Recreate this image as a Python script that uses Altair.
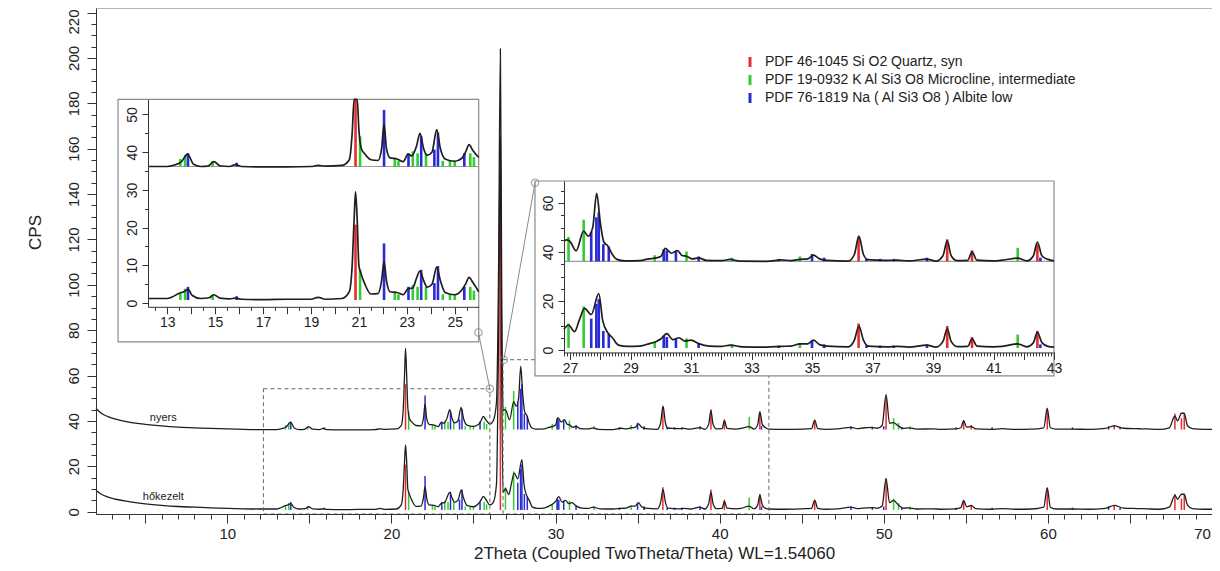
import altair as alt
import pandas as pd

# ---------------- data ----------------
# measured pattern, raw sample (shifted up in the display), (2theta, CPS)
NYERS = [
    (2.0, 45.5), (2.3, 43.5), (2.7, 42.0), (3.2, 40.8), (4.0, 39.5), (5.0, 38.5), (6.0, 37.8),
    (7.0, 37.3), (8.0, 37.0), (9.0, 36.7), (10.0, 36.5), (11.0, 36.3), (12.0, 36.2), (12.2, 36.2),
    (12.6, 36.2), (13.0, 36.2), (13.3, 36.6), (13.6, 37.5), (13.85, 39.5), (14.1, 36.8), (14.4, 36.2),
    (14.7, 36.3), (14.95, 37.5), (15.2, 36.4), (15.6, 36.2), (15.85, 36.7), (16.1, 36.2),
    (17.0, 36.1), (18.0, 36.1), (19.0, 36.2), (19.3, 36.5), (19.6, 36.3), (20.3, 36.5), (20.6, 38.0),
    (20.72, 45.0), (20.8, 60.0), (20.86, 72.0), (20.93, 60.0), (21.0, 46.0), (21.1, 41.0),
    (21.25, 39.5), (21.5, 38.0), (21.8, 37.8), (21.95, 41.0), (22.05, 47.5), (22.15, 41.0),
    (22.3, 38.5), (22.6, 38.2), (22.85, 37.5), (23.05, 39.5), (23.2, 39.0), (23.4, 41.5),
    (23.55, 45.0), (23.7, 41.0), (23.85, 39.2), (24.05, 40.0), (24.25, 46.0), (24.4, 41.0),
    (24.6, 38.2), (25.0, 37.6), (25.3, 38.4), (25.45, 40.0), (25.6, 42.0), (25.75, 40.5),
    (26.0, 38.6), (26.2, 40.0), (26.4, 48.0), (26.52, 100.0), (26.64, 204.0), (26.72, 100.0),
    (26.8, 44.5), (26.9, 45.0), (27.0, 44.3), (27.2, 40.5), (27.45, 48.5), (27.6, 46.5),
    (27.75, 50.0), (27.88, 64.0), (28.0, 52.0), (28.12, 44.0), (28.25, 42.5), (28.4, 39.0),
    (28.55, 37.0), (28.8, 36.4), (29.3, 36.5), (29.6, 37.2), (29.85, 37.6), (30.0, 38.2),
    (30.15, 41.5), (30.35, 39.5), (30.55, 40.6), (30.7, 38.6), (30.85, 38.3), (31.05, 37.2),
    (31.25, 37.6), (31.5, 36.6), (32.0, 36.5), (32.3, 37.0), (32.6, 36.3), (33.5, 36.2),
    (34.0, 36.8), (34.3, 36.5), (34.6, 37.0), (34.85, 37.2), (35.05, 38.7), (35.25, 37.2),
    (35.5, 36.6), (36.2, 36.3), (36.4, 39.0), (36.55, 46.5), (36.7, 39.0), (36.85, 36.9),
    (37.2, 36.7), (37.5, 36.6), (37.8, 36.7), (38.2, 36.4), (38.8, 37.1), (39.1, 36.3),
    (39.33, 38.5), (39.47, 44.6), (39.6, 38.5), (39.8, 36.5), (40.15, 36.6), (40.29, 40.1),
    (40.45, 36.7), (41.0, 36.4), (41.3, 36.7), (41.8, 37.5), (42.1, 36.4), (42.32, 38.5),
    (42.45, 44.1), (42.6, 38.5), (42.8, 37.0), (43.0, 36.4), (44.0, 36.3), (45.0, 36.4),
    (45.6, 36.6), (45.79, 40.4), (45.98, 36.6), (46.5, 36.3), (47.2, 36.5), (48.0, 37.2),
    (48.4, 36.6), (48.7, 36.9), (49.3, 37.2), (49.6, 36.8), (49.9, 38.0), (50.14, 51.6),
    (50.35, 39.0), (50.6, 39.3), (50.85, 38.0), (51.2, 36.7), (51.5, 37.0), (52.0, 36.4),
    (53.0, 36.5), (53.5, 36.3), (54.4, 36.5), (54.7, 37.0), (54.87, 40.1), (55.05, 37.3),
    (55.33, 37.5), (55.6, 36.5), (56.5, 36.3), (57.24, 36.6), (58.0, 36.3), (59.0, 36.4),
    (59.75, 37.0), (59.96, 45.6), (60.15, 37.0), (60.5, 36.4), (61.5, 36.4), (62.5, 36.3),
    (63.5, 36.7), (64.04, 37.8), (64.6, 36.8), (65.4, 36.6), (66.0, 36.5), (66.8, 36.3),
    (67.4, 37.0), (67.74, 42.2), (67.9, 40.0), (68.14, 43.4), (68.31, 43.4), (68.5, 38.0),
    (68.8, 36.6), (69.5, 36.3), (70.0, 36.3),
]
# measured pattern, heat-treated sample
HOKEZELT = [
    (2.0, 9.5), (2.3, 7.8), (2.7, 6.5), (3.2, 5.5), (4.0, 4.5), (5.0, 3.5), (6.0, 2.8),
    (7.0, 2.3), (8.0, 2.0), (9.0, 1.7), (10.0, 1.5), (11.0, 1.3), (12.0, 1.2), (12.2, 1.2),
    (12.6, 1.2), (13.0, 1.2), (13.2, 1.6), (13.5, 2.6), (13.7, 3.0), (13.87, 3.6), (14.05, 2.0),
    (14.4, 1.2), (14.75, 1.4), (14.95, 2.2), (15.2, 1.3), (15.6, 1.1), (15.85, 1.3), (16.1, 1.0),
    (17.0, 0.9), (18.0, 1.0), (19.0, 1.0), (19.3, 1.5), (19.6, 1.0), (20.3, 1.2), (20.6, 3.0),
    (20.72, 10.0), (20.8, 22.0), (20.86, 29.5), (20.93, 22.0), (21.0, 10.0), (21.08, 8.0),
    (21.25, 5.0), (21.5, 2.4), (21.8, 2.5), (21.95, 6.0), (22.05, 11.0), (22.15, 6.0),
    (22.3, 3.0), (22.6, 2.8), (22.85, 2.2), (23.05, 3.8), (23.25, 4.0), (23.4, 6.5),
    (23.55, 8.5), (23.7, 6.0), (23.85, 4.2), (24.05, 5.0), (24.25, 9.5), (24.4, 6.0),
    (24.6, 2.8), (25.0, 2.2), (25.3, 3.5), (25.45, 5.0), (25.6, 6.8), (25.75, 5.5),
    (26.0, 3.0), (26.2, 4.0), (26.4, 12.0), (26.52, 70.0), (26.64, 165.0), (26.72, 60.0),
    (26.8, 8.5), (26.95, 10.2), (27.15, 7.5), (27.3, 12.0), (27.48, 17.0), (27.7, 14.5),
    (27.95, 23.0), (28.08, 12.0), (28.25, 7.0), (28.4, 5.0), (28.6, 2.0), (28.9, 1.5),
    (29.3, 1.6), (29.6, 2.5), (29.85, 3.5), (30.0, 4.5), (30.2, 6.7), (30.4, 4.2), (30.6, 5.0),
    (30.8, 3.6), (31.0, 4.0), (31.25, 2.6), (31.6, 1.6), (32.0, 1.5), (32.3, 2.0), (32.7, 1.3),
    (33.5, 1.2), (34.0, 1.5), (34.3, 1.6), (34.6, 2.5), (34.85, 2.5), (35.05, 4.0), (35.25, 2.2),
    (35.5, 1.6), (36.2, 1.3), (36.4, 4.0), (36.55, 9.8), (36.7, 4.0), (36.85, 1.6), (37.5, 1.3),
    (37.8, 1.5), (38.2, 1.2), (38.8, 2.0), (39.1, 1.2), (39.33, 3.5), (39.47, 8.6), (39.6, 3.5),
    (39.8, 1.4), (40.15, 1.5), (40.29, 4.6), (40.45, 1.6), (41.0, 1.3), (41.3, 1.5), (41.8, 2.5),
    (42.1, 1.3), (42.32, 3.0), (42.45, 7.3), (42.6, 3.0), (42.8, 1.5), (43.0, 1.2), (44.0, 1.1),
    (45.0, 1.3), (45.6, 1.5), (45.79, 5.1), (45.98, 1.5), (46.5, 1.1), (47.2, 1.3), (48.0, 2.0),
    (48.4, 1.4), (48.7, 1.6), (49.3, 1.8), (49.6, 1.5), (49.9, 2.5), (50.14, 14.6), (50.35, 4.0),
    (50.6, 5.0), (50.85, 3.3), (51.2, 1.6), (51.5, 1.7), (52.0, 1.2), (53.0, 1.3), (53.5, 1.1),
    (54.4, 1.3), (54.7, 1.8), (54.87, 5.0), (55.05, 2.2), (55.33, 2.8), (55.6, 1.4), (56.5, 1.1),
    (57.24, 1.4), (58.0, 1.1), (59.0, 1.2), (59.75, 2.0), (59.96, 10.6), (60.15, 2.0),
    (60.5, 1.2), (61.5, 1.2), (62.5, 1.1), (63.5, 1.5), (64.04, 2.8), (64.6, 1.6), (65.4, 1.4),
    (66.0, 1.3), (66.8, 1.1), (67.4, 2.0), (67.74, 7.2), (67.9, 5.5), (68.14, 7.7), (68.31, 7.7),
    (68.5, 3.0), (68.8, 1.4), (69.5, 1.1), (70.0, 1.1),
]
# reference sticks (2theta, height above the pattern baseline in CPS)
QUARTZ = [(20.86, 20), (26.64, 114), (36.54, 10), (39.47, 9), (40.29, 4.5), (42.45, 7),
          (45.79, 4), (50.14, 14), (54.87, 4), (55.33, 2), (59.96, 9), (64.04, 2),
          (67.74, 7), (68.14, 5), (68.31, 7)]
MICROCLINE = [(13.55, 2), (13.75, 3), (14.9, 1.5), (21.05, 8), (22.5, 2), (22.65, 1.5),
              (23.25, 4), (23.45, 3.5), (23.8, 3.5), (24.5, 1.5), (24.8, 1.5), (25.0, 1.5),
              (25.65, 3.5), (25.8, 2.5), (26.95, 10), (27.45, 17), (29.8, 2.5), (30.1, 3),
              (30.85, 4), (32.35, 1.5), (34.6, 2), (35.4, 1), (41.8, 5.5), (50.6, 5),
              (50.9, 3), (51.6, 1.5)]
ALBITE = [(13.87, 3.5), (15.9, 1), (22.05, 15), (23.07, 3.5), (23.6, 8), (24.15, 4.5),
          (24.3, 9), (25.4, 3.5), (27.7, 12), (27.87, 18), (27.95, 20), (28.1, 7),
          (28.28, 6), (30.1, 5), (30.2, 4.5), (30.5, 4), (31.25, 2), (33.9, 1), (35.0, 3),
          (35.4, 1.5), (36.8, 1), (37.25, 1), (37.7, 1), (38.8, 1.5), (42.55, 1.5),
          (48.0, 1.5), (49.3, 1), (50.0, 1.5), (51.1, 1), (54.4, 1), (56.6, 1),
          (61.5, 1), (63.7, 1.5), (64.4, 1)]

PATTERNS = ["nyers", "hőkezelt"]
STICK_BASE = [36.2, 0.8]
PHASES = ["PDF 46-1045 Si O2 Quartz, syn",
          "PDF 19-0932 K Al Si3 O8 Microcline, intermediate",
          "PDF 76-1819 Na ( Al Si3 O8 ) Albite low"]
LABELS = [("nyers", 6.1, 41.3), ("hőkezelt", 6.1, 6.7)]

MAIN_X = [2, 70]
MAIN_Y = [-1, 222]
LEFT_X = [12.2, 26.0]
LEFT_Y = [-1, 54]
RIGHT_X = [26.8, 43.0]
RIGHT_Y = [-1, 69]
BOX_TOPS = [54.2, 67.0]          # tops of the dashed zoom boxes in the main panel
SEPARATOR = 36.2
# inset frames, in the inset's own coordinates (frame includes tick labels)
LEFT_FRAME = ([10.95, 26.0], [-10.3, 54])
RIGHT_FRAME = ([25.84, 43.0], [-10.6, 69])
# zoom connectors, main coordinates
CONNECTORS = [("a", 26.0, 54.2), ("a", 25.3, 79.0), ("b", 26.85, 67.0), ("b", 28.75, 145.0)]

# ---------------- layout / style ----------------
FONT = "Liberation Sans"
W, H = 1116, 506
LEFT_XR = [52, 382.7]
LEFT_YR = [298.8, 91.4]
RIGHT_XR = [468, 958]
RIGHT_YR = [344.45, 173]
COLORS = ["#ea2b2b", "#33cc33", "#2a2ad8"]
INK = "#1e1e1e"

curves = pd.DataFrame([{"pattern": p, "x": x, "y": y}
                       for p, pts in zip(PATTERNS, [NYERS, HOKEZELT]) for x, y in pts])
sticks = pd.DataFrame([{"pattern": p, "phase": ph, "x": x, "base": b, "top": b + h}
                       for p, b in zip(PATTERNS, STICK_BASE)
                       for ph, lst in zip(PHASES, [QUARTZ, MICROCLINE, ALBITE])
                       for x, h in lst])
zoom_boxes = pd.DataFrame([
    {"x": LEFT_X[0], "x2": LEFT_X[1], "y": MAIN_Y[0], "y2": BOX_TOPS[0]},
    {"x": RIGHT_X[0], "x2": RIGHT_X[1], "y": MAIN_Y[0], "y2": BOX_TOPS[1]},
])
conn = pd.DataFrame([{"id": i, "x": x, "y": y} for i, x, y in CONNECTORS])
labels = pd.DataFrame([{"t": t, "x": x, "y": y} for t, x, y in LABELS])


def sc(domain, rng=None, clamp=False):
    if rng is None:
        return alt.Scale(domain=domain, nice=False, zero=False, clamp=clamp)
    return alt.Scale(domain=domain, range=rng, nice=False, zero=False, clamp=clamp)


def axis(orient, values, tick, labels=True, expr=None, domain=True, offset=0, fs=14, **kw):
    a = dict(orient=orient, values=values, tickSize=tick, labels=labels, domain=domain,
             offset=offset, grid=False, tickColor="#333", domainColor="#333",
             labelColor="#222", labelFontSize=fs, labelFont=FONT, labelFlush=False,
             labelOverlap=False, zindex=2)
    if expr:
        a["labelExpr"] = expr
    if orient == "left":
        a.update(labelAngle=-90, labelAlign="center", labelBaseline="bottom")
    a.update(kw)
    return alt.Axis(**a)


color = alt.Color("phase:N", scale=alt.Scale(domain=PHASES, range=COLORS),
                  legend=alt.Legend(orient="none", legendX=647, legendY=47, title=None,
                                    symbolType="M0,-1L0,1", symbolSize=100,
                                    symbolStrokeWidth=3, labelFontSize=14, labelFont=FONT,
                                    labelColor="#222", rowPadding=-4, labelOffset=8,
                                    labelLimit=400))

odd = "datum.value % 2 == 1 ? datum.label : ''"

# ---- main panel ----
mx, my = sc(MAIN_X), sc(MAIN_Y)
main_sticks = alt.Chart(sticks).mark_rule(strokeWidth=1.5).encode(
    x=alt.X("x:Q", scale=mx, title=None,
            axis=axis("bottom", list(range(3, 70)), 5, labels=False, domain=False)),
    y=alt.Y("base:Q", scale=my, title=None,
            axis=axis("left", list(range(0, 222, 5)), 5, labels=False, domain=False)),
    y2="top:Q", color=color)
main_curves = alt.Chart(curves).mark_line(color=INK, strokeWidth=1.3,
                                          interpolate="monotone").encode(
    x=alt.X("x:Q", scale=mx,
            axis=axis("bottom", list(range(5, 71, 5)), 9,
                      expr="datum.value % 10 == 0 ? datum.label : ''", fs=15,
                      labelPadding=3, titleFontSize=17, titleFont=FONT,
                      labelOffset={"condition": {"test": "datum.value >= 70", "value": -10},
                                   "value": 0},
                      titleFontWeight="normal", titlePadding=4, titleColor="#222"),
            title="2Theta (Coupled TwoTheta/Theta) WL=1.54060"),
    y=alt.Y("y:Q", scale=my,
            axis=axis("left", list(range(0, 221, 20)), 9, fs=15, labelPadding=6,
                      labelOffset={"condition": {"test": "datum.value >= 220", "value": 9},
                                   "value": 0},
                      titleFontSize=17, titleFont=FONT, titleFontWeight="normal",
                      titleX=-52, titleY=224, titleAngle=-90, titleAlign="center",
                      titleBaseline="bottom", titleColor="#222"),
            title="CPS"),
    detail="pattern:N")
main_boxes = alt.Chart(zoom_boxes).mark_rect(filled=False, stroke="#666", strokeWidth=1,
                                             strokeDash=[4, 3]).encode(
    x=alt.X("x:Q", scale=mx, axis=None), x2="x2:Q",
    y=alt.Y("y:Q", scale=my, axis=None), y2="y2:Q")
main_labels = alt.Chart(labels).mark_text(fontSize=11, font=FONT, color="#222").encode(
    x=alt.X("x:Q", scale=mx, axis=None), y=alt.Y("y:Q", scale=my, axis=None), text="t:N")


def inset(xd, yd, xr, yr, frame, xmaj, xmin, ymaj, ymin, xexpr):
    fx = pd.DataFrame([{"x": frame[0][0], "x2": frame[0][1], "y": frame[1][0], "y2": frame[1][1]}])
    frame_l = alt.Chart(fx).mark_rect(fill="white", stroke="#8a8a8a", strokeWidth=1.2).encode(
        x=alt.X("x:Q", scale=sc(xd, xr), axis=None), x2="x2:Q",
        y=alt.Y("y:Q", scale=sc(yd, yr), axis=None), y2="y2:Q")
    flt = (alt.datum.x >= xd[0]) & (alt.datum.x <= xd[1])
    xo = yr[0] - H
    yo = -xr[0]
    st = alt.Chart(sticks).transform_filter(flt).mark_rule(strokeWidth=2.6).encode(
        x=alt.X("x:Q", scale=sc(xd, xr), title=None,
                axis=axis("bottom", xmin, 3.5, labels=False, domain=False, offset=xo)),
        y=alt.Y("base:Q", scale=sc(yd, yr, True), title=None,
                axis=axis("left", ymin, 3.5, labels=False, domain=False, offset=yo)),
        y2="top:Q", color=color)
    sep = pd.DataFrame([{"x": xd[0], "x2": xd[1], "y": SEPARATOR}])
    sep_l = alt.Chart(sep).mark_rule(color="#9a9a9a", strokeWidth=1.2).encode(
        x=alt.X("x:Q", scale=sc(xd, xr), axis=None), x2="x2:Q",
        y=alt.Y("y:Q", scale=sc(yd, yr), axis=None))
    cv = alt.Chart(curves).transform_filter(flt).mark_line(
        color=INK, strokeWidth=1.7, interpolate="monotone").encode(
        x=alt.X("x:Q", scale=sc(xd, xr, True), title=None,
                axis=axis("bottom", xmaj, 7, expr=xexpr, offset=xo, labelPadding=2)),
        y=alt.Y("y:Q", scale=sc(yd, yr, True), title=None,
                axis=axis("left", ymaj, 6, offset=yo, labelPadding=3)),
        detail="pattern:N")
    return [frame_l, sep_l, st, cv]


left = inset(LEFT_X, LEFT_Y, LEFT_XR, LEFT_YR, LEFT_FRAME,
             list(range(13, 26)), [12.5 + i for i in range(14)],
             list(range(0, 51, 10)), list(range(5, 51, 10)), odd)
right = inset(RIGHT_X, RIGHT_Y, RIGHT_XR, RIGHT_YR, RIGHT_FRAME,
              list(range(27, 44)), [round(26.8 + 0.1 * i, 1) for i in range(163)],
              list(range(0, 61, 20)), list(range(0, 69, 5)), odd)

conn_lines = alt.Chart(conn).mark_line(color="#8a8a8a", strokeWidth=1).encode(
    x=alt.X("x:Q", scale=mx, axis=None), y=alt.Y("y:Q", scale=my, axis=None), detail="id:N")
conn_pts = alt.Chart(conn).mark_point(shape="circle", size=55, filled=False, color="#808080",
                                      strokeWidth=1.2).encode(
    x=alt.X("x:Q", scale=mx, axis=None), y=alt.Y("y:Q", scale=my, axis=None))

chart = alt.layer(
    main_sticks, main_curves, main_boxes, main_labels,
    *left, *right, conn_lines, conn_pts,
).resolve_scale(x="independent", y="independent").properties(
    width=W, height=H, autosize="none",
    padding={"left": 88, "top": 0, "right": 0, "bottom": 49},
).configure(font=FONT).configure_view(stroke="#b5b5b5", strokeWidth=1)

chart.save("out.html", embed_options={"renderer": "svg", "actions": False})
